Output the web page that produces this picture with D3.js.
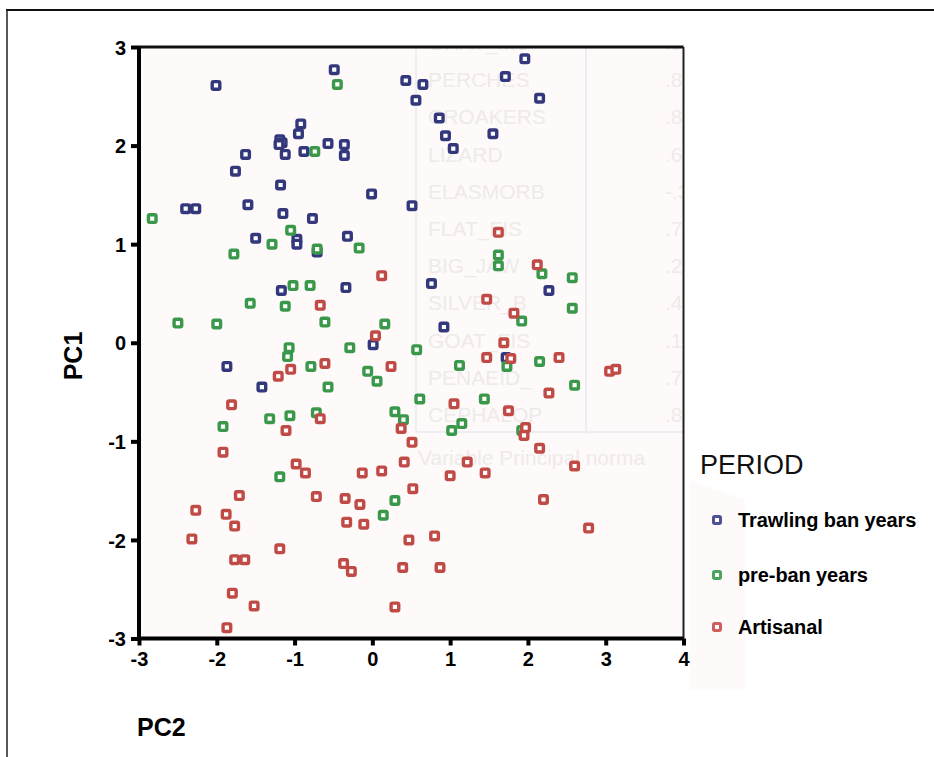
<!DOCTYPE html>
<html>
<head>
<meta charset="utf-8">
<script src="https://cdn.jsdelivr.net/npm/d3@7"></script>
<style>
  body { margin: 0; background: #ffffff; }
  svg { display: block; font-family: "Liberation Sans", Arial, sans-serif; }
</style>
</head>
<body>
<svg id="chart" width="934" height="757"></svg>
<script>
// PCA scores (x = PC2, y = PC1)
const trawlingBan = [
  [-2.01, 2.61], [-0.49, 2.77], [-0.92, 2.22], [-0.95, 2.12], [-1.19, 2.06], [-1.16, 2.03],
  [-1.20, 2.01], [-1.63, 1.91], [-1.12, 1.91], [-0.88, 1.94], [-0.57, 2.02], [-0.36, 2.01],
  [-0.36, 1.90], [-1.76, 1.74], [-1.18, 1.60], [-0.01, 1.51], [-2.40, 1.36], [-2.27, 1.36],
  [-1.60, 1.40], [-1.15, 1.31], [-0.77, 1.26], [1.96, 2.88], [0.43, 2.66], [0.65, 2.62],
  [1.71, 2.70], [0.56, 2.46], [2.15, 2.48], [0.86, 2.28], [0.94, 2.10], [1.55, 2.12],
  [1.04, 1.97], [0.51, 1.39], [-1.50, 1.06], [-0.97, 1.05], [-0.97, 1.00], [-0.71, 0.92],
  [-0.32, 1.08], [-1.17, 0.53], [-0.34, 0.56], [0.01, -0.02], [-1.87, -0.24], [-1.42, -0.45],
  [0.76, 0.60], [2.27, 0.53], [0.92, 0.16], [1.72, -0.15]
];
const preBan = [
  [-0.45, 2.62], [-0.74, 1.94], [-2.83, 1.26], [-1.05, 1.14], [-1.29, 1.00], [-0.71, 0.95],
  [-0.17, 0.96], [-1.78, 0.90], [-1.02, 0.58], [-0.80, 0.58], [-1.57, 0.40], [-1.12, 0.37],
  [-2.50, 0.20], [-2.00, 0.19], [-0.61, 0.21], [0.16, 0.19], [-1.07, -0.05], [-1.09, -0.14],
  [-0.29, -0.05], [-0.79, -0.24], [-0.06, -0.29], [0.06, -0.39], [-0.57, -0.45], [1.62, 0.89],
  [1.62, 0.78], [2.18, 0.70], [2.57, 0.66], [2.57, 0.35], [1.92, 0.22], [0.57, -0.07],
  [1.73, -0.24], [2.15, -0.19], [1.12, -0.23], [2.60, -0.43], [0.61, -0.57], [1.44, -0.57],
  [0.29, -0.70], [0.40, -0.78], [1.02, -0.89], [1.15, -0.82], [1.92, -0.89], [-1.92, -0.85],
  [-1.32, -0.77], [-1.06, -0.74], [-0.72, -0.71], [-1.19, -1.36], [0.29, -1.60], [0.14, -1.75]
];
const artisanal = [
  [1.62, 1.12], [0.12, 0.68], [-0.67, 0.38], [0.04, 0.07], [-1.21, -0.34], [-1.05, -0.27],
  [-0.61, -0.21], [0.24, -0.24], [2.12, 0.79], [1.47, 0.44], [1.82, 0.30], [1.69, 0.00],
  [1.47, -0.15], [1.78, -0.16], [2.40, -0.15], [3.05, -0.29], [3.13, -0.27], [2.27, -0.51],
  [1.05, -0.62], [1.75, -0.69], [0.37, -0.87], [1.97, -0.86], [1.95, -0.94], [0.51, -1.01],
  [2.15, -1.07], [-1.81, -0.63], [-0.67, -0.77], [-1.11, -0.89], [-1.92, -1.11], [-0.98, -1.23],
  [-0.86, -1.32], [-0.13, -1.32], [0.12, -1.30], [-1.71, -1.55], [-0.72, -1.56], [-0.35, -1.58],
  [-0.16, -1.64], [-2.27, -1.70], [-1.88, -1.74], [-1.77, -1.86], [-0.33, -1.82], [-0.11, -1.84],
  [-2.32, -1.99], [-1.19, -2.09], [-1.77, -2.20], [-1.64, -2.20], [-0.37, -2.24], [-0.27, -2.32],
  [-1.80, -2.54], [-1.52, -2.67], [-1.87, -2.89], [2.60, -1.25], [0.41, -1.21], [1.22, -1.21],
  [1.00, -1.35], [1.45, -1.32], [0.52, -1.48], [2.20, -1.59], [2.78, -1.88], [0.47, -2.00],
  [0.80, -1.96], [0.39, -2.28], [0.87, -2.28], [0.29, -2.68]
];

const periods = ["Trawling ban years", "pre-ban years", "Artisanal"];
const periodColors = ["#33377c", "#3a984a", "#c04a45"];
const legendColors = ["#4d5198", "#4aa45e", "#cf5e5e"];
const xTicks = [-3, -2, -1, 0, 1, 2, 3, 4];
const yTicks = [-3, -2, -1, 0, 1, 2, 3];

// faint table showing through from the other side of the scanned page
const ghostNames = ["GRAY_MU", "PERCHES", "CROAKERS", "LIZARD", "ELASMORB", "FLAT_FIS",
  "BIG_JAW", "SILVER_B", "GOAT_FIS", "PENAEID_", "CEPHALOP"];
const ghostLoadings = [".9", ".85", ".82", ".69", "-.35", ".76", ".23", ".42", ".18", ".73", ".81"];

const svg = d3.select("#chart");

const x = d3.scaleLinear().domain([-3, 4]).range([139, 683.5]);
const y = d3.scaleLinear().domain([-3, 3]).range([638.5, 47]);

// page frame
svg.append("line").attr("x1", 6).attr("x2", 934).attr("y1", 10).attr("y2", 10)
  .attr("stroke", "#111").attr("stroke-width", 2);
svg.append("line").attr("x1", 7).attr("x2", 7).attr("y1", 10).attr("y2", 757)
  .attr("stroke", "#222").attr("stroke-width", 1.5);

// plot background
svg.append("rect")
  .attr("x", x(-3)).attr("y", y(3))
  .attr("width", x(4) - x(-3)).attr("height", y(-3) - y(3))
  .attr("fill", "#fefaf9");
svg.append("path")
  .attr("d", "M690,480 L745,500 L745,690 L690,690 Z")
  .attr("fill", "#fefaf9");

svg.append("clipPath").attr("id", "plotClip")
  .append("rect")
  .attr("x", x(-3)).attr("y", y(3))
  .attr("width", x(4) - x(-3)).attr("height", y(-3) - y(3));

const ghost = svg.append("g").attr("clip-path", "url(#plotClip)");
ghost.append("path")
  .attr("d", "M416,40 V432 H683 M586,40 V434")
  .attr("fill", "none").attr("stroke", "#eeedf2").attr("stroke-width", 2);
ghost.selectAll("text.gname")
  .data(ghostNames)
  .enter().append("text")
  .attr("class", "gname")
  .attr("x", 428)
  .attr("y", function(d, i) { return 50 + i * 37.2; })
  .attr("font-size", 21)
  .attr("fill", "#efeaea")
  .text(function(d) { return d; });
ghost.selectAll("text.gval")
  .data(ghostLoadings)
  .enter().append("text")
  .attr("class", "gval")
  .attr("x", 665)
  .attr("y", function(d, i) { return 50 + i * 37.2; })
  .attr("font-size", 21)
  .attr("fill", "#efeaea")
  .text(function(d) { return d; });
svg.append("text")
  .attr("x", 418).attr("y", 465)
  .attr("font-size", 21)
  .attr("fill", "#efeaea")
  .text("Variable Principal norma");

// top and right border of the plot
svg.append("line").attr("x1", x(-3)).attr("x2", x(4)).attr("y1", y(3)).attr("y2", y(3))
  .attr("stroke", "#111").attr("stroke-width", 3);
svg.append("line").attr("x1", x(4)).attr("x2", x(4)).attr("y1", y(3)).attr("y2", y(-3))
  .attr("stroke", "#222").attr("stroke-width", 2);

// points
const series = [trawlingBan, preBan, artisanal];
series.forEach(function(values, i) {
  svg.append("g")
    .selectAll("rect")
    .data(values)
    .enter()
    .append("rect")
    .attr("x", function(d) { return x(d[0]) - 3.8; })
    .attr("y", function(d) { return y(d[1]) - 3.8; })
    .attr("width", 7.6)
    .attr("height", 7.6)
    .attr("rx", 1.3)
    .attr("fill", "#ffffff")
    .attr("stroke", periodColors[i])
    .attr("stroke-width", 3.4);
});

// axes
const intFormat = function(d) { return String(d); };
const xAxis = svg.append("g")
  .attr("transform", "translate(0," + y(-3) + ")")
  .call(d3.axisBottom(x).tickValues(xTicks).tickSize(7).tickPadding(6).tickFormat(intFormat));
const yAxis = svg.append("g")
  .attr("transform", "translate(" + x(-3) + ",0)")
  .call(d3.axisLeft(y).tickValues(yTicks).tickSize(8).tickPadding(5).tickFormat(intFormat));

[xAxis, yAxis].forEach(function(ax) {
  ax.select(".domain").attr("stroke", "#000").attr("stroke-width", 4);
  ax.selectAll(".tick line").attr("stroke", "#000").attr("stroke-width", 4);
  ax.selectAll(".tick text")
    .attr("fill", "#000")
    .attr("font-size", 20)
    .attr("font-weight", "bold")
    .attr("font-family", "Liberation Sans, Arial, sans-serif");
});
xAxis.select(".domain").attr("d", "M" + x(-3) + ",0H" + x(4));
yAxis.select(".domain").attr("d", "M0," + y(3) + "V" + (y(-3) + 2));
yAxis.selectAll(".tick text").attr("dy", "0.36em");

// axis titles
svg.append("text")
  .attr("x", 137).attr("y", 736)
  .attr("font-size", 25).attr("font-weight", "bold")
  .text("PC2");
svg.append("text")
  .attr("transform", "translate(82,356) rotate(-90)")
  .attr("text-anchor", "middle")
  .attr("font-size", 25).attr("font-weight", "bold")
  .text("PC1");

// legend
svg.append("text")
  .attr("x", 700).attr("y", 474)
  .attr("font-size", 27)
  .attr("fill", "#111")
  .text("PERIOD");
const legend = svg.append("g")
  .selectAll("g")
  .data(periods)
  .enter()
  .append("g")
  .attr("transform", function(d, i) { return "translate(717," + [520, 575, 627][i] + ")"; });
legend.append("rect")
  .attr("x", -3.5).attr("y", -3.5)
  .attr("width", 7).attr("height", 7)
  .attr("rx", 1.2)
  .attr("fill", "#ffffff")
  .attr("stroke", function(d, i) { return legendColors[i]; })
  .attr("stroke-width", 3);
legend.append("text")
  .attr("x", 21).attr("y", 7)
  .attr("font-size", 20)
  .attr("font-weight", "bold")
  .attr("letter-spacing", -0.1)
  .attr("fill", "#000")
  .text(function(d) { return d; });
</script>
</body>
</html>
